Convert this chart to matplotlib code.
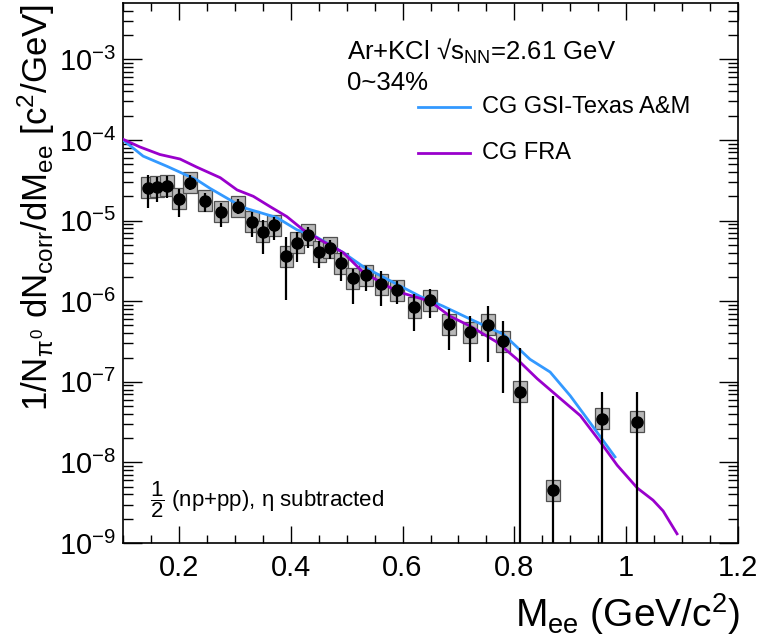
import numpy as np
import matplotlib
matplotlib.use('Agg')
import matplotlib.pyplot as plt
from matplotlib.patches import Rectangle
from matplotlib.lines import Line2D
from matplotlib.ticker import FixedLocator, MultipleLocator, LogFormatterSciNotation, FuncFormatter, NullFormatter

plt.rcParams['font.family'] = ['Liberation Sans', 'DejaVu Sans']
plt.rcParams['mathtext.fontset'] = 'custom'
plt.rcParams['mathtext.rm'] = 'Liberation Sans'
plt.rcParams['mathtext.it'] = 'Liberation Sans'   # upright greek, like ROOT
plt.rcParams['mathtext.bf'] = 'Liberation Sans:bold'

# data points (mass, yield, error bar low / high); low = 0 means bar goes to zero
mass = [0.145, 0.161, 0.179, 0.200, 0.220, 0.247, 0.275, 0.306, 0.331, 0.350,
        0.370, 0.392, 0.411, 0.431, 0.451, 0.470, 0.490, 0.511, 0.535, 0.562,
        0.590, 0.621, 0.649, 0.683, 0.721, 0.753, 0.780, 0.810, 0.869, 0.957, 1.019]
yld = [2.55e-5, 2.63e-5, 2.70e-5, 1.87e-5, 2.94e-5, 1.77e-5, 1.29e-5, 1.49e-5, 9.7e-6, 7.3e-6,
       8.7e-6, 3.6e-6, 5.3e-6, 6.7e-6, 4.1e-6, 4.6e-6, 2.94e-6, 1.92e-6, 2.09e-6, 1.62e-6,
       1.37e-6, 8.4e-7, 1.03e-6, 5.2e-7, 4.1e-7, 5.1e-7, 3.2e-7, 7.5e-8, 4.5e-9, 3.5e-8, 3.2e-8]
err_hi = [3.69e-5, 3.49e-5, 3.6e-5, 2.48e-5, 3.7e-5, 2.22e-5, 1.67e-5, 1.87e-5, 1.29e-5, 1.03e-5,
          1.12e-5, 6.2e-6, 7.3e-6, 8.4e-6, 5.5e-6, 5.8e-6, 4.1e-6, 2.48e-6, 2.7e-6, 2.34e-6,
          1.77e-6, 1.22e-6, 1.41e-6, 8.0e-7, 6.5e-7, 8.7e-7, 5.7e-7, 2.6e-7, 6.7e-8, 7.5e-8, 7.5e-8]
err_lo = [1.45e-5, 1.72e-5, 1.92e-5, 1.12e-5, 2.41e-5, 1.26e-5, 8.4e-6, 1.19e-5, 6.2e-6, 3.9e-6,
          5.8e-6, 1.03e-6, 3.1e-6, 4.6e-6, 2.6e-6, 3.3e-6, 1.77e-6, 9.2e-7, 1.33e-6, 8.7e-7,
          9.2e-7, 4.3e-7, 6.2e-7, 2.48e-7, 1.77e-7, 1.77e-7, 7.3e-8, 0, 0, 0, 0]
sys_factor = 1.35   # systematic boxes, multiplicative
box_halfwidth = 0.012

# cocktail curves
gsi_m = [0.10, 0.136, 0.179, 0.232, 0.256, 0.315, 0.375, 0.411, 0.447, 0.494, 0.529,
         0.590, 0.631, 0.672, 0.721, 0.780, 0.828, 0.864, 0.900, 0.930, 0.980]
gsi_y = [1.0e-4, 6.3e-5, 4.7e-5, 3.2e-5, 2.5e-5, 1.45e-5, 1.09e-5, 7.7e-6, 6.2e-6, 4.0e-6, 2.7e-6,
         1.62e-6, 1.15e-6, 8.7e-7, 6.0e-7, 3.9e-7, 1.9e-7, 1.32e-7, 6.7e-8, 3.5e-8, 1.17e-8]
fra_m = [0.10, 0.130, 0.166, 0.202, 0.232, 0.274, 0.304, 0.333, 0.363, 0.393, 0.422, 0.452,
         0.494, 0.529, 0.590, 0.619, 0.649, 0.685, 0.721, 0.769, 0.805, 0.841, 0.887, 0.918,
         0.953, 0.984, 1.020, 1.048, 1.066, 1.091]
fra_y = [1.02e-4, 8.2e-5, 6.6e-5, 5.8e-5, 4.6e-5, 3.4e-5, 2.4e-5, 2.0e-5, 1.49e-5, 1.12e-5, 7.7e-6,
         5.8e-6, 4.0e-6, 2.3e-6, 1.32e-6, 1.15e-6, 1.0e-6, 6.5e-7, 4.9e-7, 3.1e-7, 1.9e-7, 1.09e-7,
         5.8e-8, 3.8e-8, 1.82e-8, 9.2e-9, 4.8e-9, 3.4e-9, 2.5e-9, 1.3e-9]

x_ticks = [0.2, 0.4, 0.6, 0.8, 1.0, 1.2]
y_decades = [1e-9, 1e-8, 1e-7, 1e-6, 1e-5, 1e-4, 1e-3]

W, H = 762, 639
fig = plt.figure(figsize=(W / 100, H / 100), dpi=100)
ax = fig.add_axes([123 / W, 1 - 543 / H, 615 / W, 540 / H])


def px(x, y):
    return x / W, 1 - y / H


blue = '#3399ff'
purple = '#9900cc'

m = np.array(mass)
y = np.array(yld)
hi = np.array(err_hi)
lo = np.maximum(np.array(err_lo), 1e-12)

for xi, yi in zip(m, y):
    ax.add_patch(Rectangle((xi - box_halfwidth, yi / sys_factor), 2 * box_halfwidth,
                           yi * sys_factor - yi / sys_factor,
                           facecolor='#b8b8b8', edgecolor='#505050', lw=0.9, zorder=2))

ax.plot(gsi_m, gsi_y, color=blue, lw=2.0, zorder=3)
ax.plot(fra_m, fra_y, color=purple, lw=2.0, zorder=3)

ax.errorbar(m, y, yerr=[y - lo, hi - y], fmt='o', color='black', ms=8,
            elinewidth=1.6, capsize=0, zorder=4)

ax.set_yscale('log')
ax.set_xlim(0.1, 1.2)
ax.set_ylim(1e-9, 5e-3)

ax.xaxis.set_major_locator(FixedLocator(x_ticks))
ax.xaxis.set_minor_locator(MultipleLocator(0.05))
ax.xaxis.set_major_formatter(FuncFormatter(lambda v, p: '%g' % v))
minors = [d * k for d in y_decades for k in range(2, 10) if d * k < 5e-3]
ax.yaxis.set_major_locator(FixedLocator(y_decades))
ax.yaxis.set_minor_locator(FixedLocator(minors))
ax.yaxis.set_major_formatter(LogFormatterSciNotation())
ax.yaxis.set_minor_formatter(NullFormatter())

ax.tick_params(which='both', direction='in', top=True, right=True, labelsize=21, width=1.0)
ax.tick_params(axis='x', which='major', length=12, pad=8)
ax.tick_params(axis='x', which='minor', length=6)
ax.tick_params(axis='y', which='major', length=14, pad=5)
ax.tick_params(axis='y', which='minor', length=7)
for s in ax.spines.values():
    s.set_linewidth(1.2)

# axis titles
fig.text(*px(740, 627), r'M$_{\rm ee}$ (GeV/c$^{2}$)', ha='right', va='baseline', fontsize=28)
fig.text(*px(36, 4), r'1/N$_{\pi^{0}}$ dN$_{\rm corr}$/dM$_{\rm ee}$ [c$^{2}$/GeV]',
         rotation=90, ha='center', va='top', fontsize=25)

# annotations
fig.text(*px(347, 60), 'Ar+KCl \u221as$_{\\rm NN}$=2.61 GeV', ha='left', va='baseline', fontsize=18.5)
fig.text(*px(347, 90), '0~34%', ha='left', va='baseline', fontsize=18.5)
fig.add_artist(Line2D([418 / W, 470 / W], [1 - 107 / H, 1 - 107 / H], color=blue, lw=2))
fig.text(*px(482, 107), 'CG GSI-Texas A&M', ha='left', va='center', fontsize=17)
fig.add_artist(Line2D([418 / W, 470 / W], [1 - 153 / H, 1 - 153 / H], color=purple, lw=2))
fig.text(*px(482, 153), 'CG FRA', ha='left', va='center', fontsize=17)
fig.text(*px(150, 500), '$\\dfrac{1}{2}$ (np+pp), \u03b7 subtracted',
         ha='left', va='center', fontsize=16)

fig.savefig('out.png', dpi=100)
